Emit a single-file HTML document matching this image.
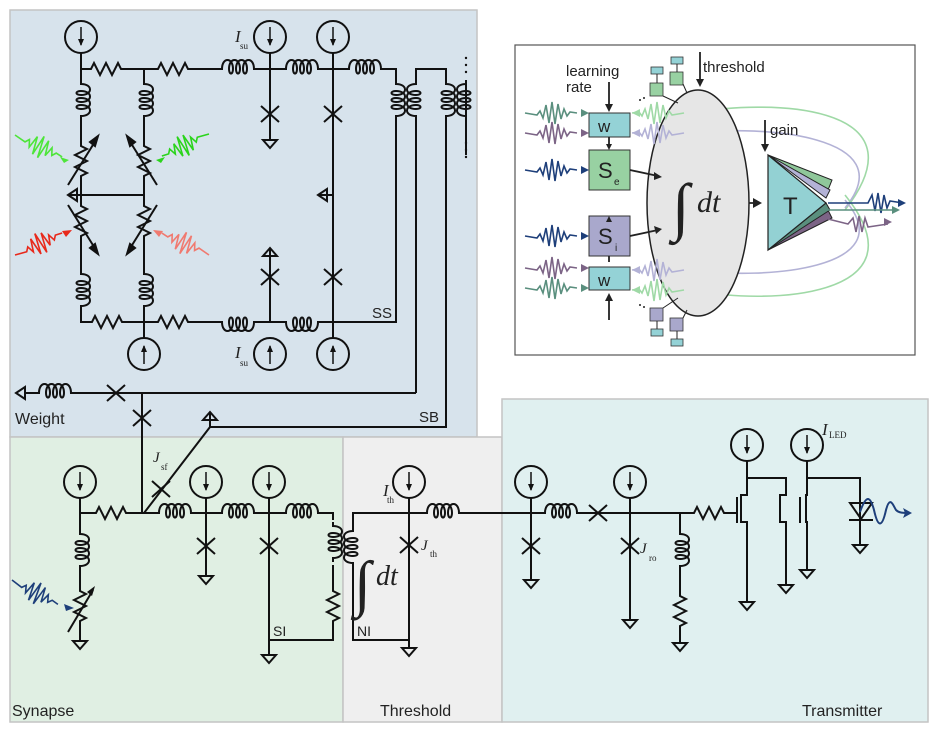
<!DOCTYPE html>
<html><head><meta charset="utf-8"><style>
html,body{margin:0;padding:0;background:#fff}
svg{display:block}
.s{font-family:"Liberation Sans",sans-serif;fill:#222}
.i{font-family:"Liberation Serif",serif;font-style:italic;fill:#222}
.sub{font-family:"Liberation Serif",serif;fill:#222;font-size:9px}
</style></head><body>
<svg width="936" height="729" viewBox="0 0 936 729" xmlns="http://www.w3.org/2000/svg">
<defs>
<g id="res"><path d="M0,0 h4 l3,-6 l6,12 l6,-12 l6,12 l6,-12 l3,6 h6" fill="none" stroke="#111" stroke-width="2"/></g>
<g id="ind"><path d="M0,0 h4 c0,-12 11,-12 11,0 c0,6 -4,6 -4,0 c0,-12 11,-12 11,0 c0,6 -4,6 -4,0 c0,-12 11,-12 11,0 c0,6 -4,6 -4,0 c0,-12 11,-12 11,0 h4" fill="none" stroke="#111" stroke-width="2"/></g>
<g id="srcd"><circle r="16" fill="none" stroke="#111" stroke-width="2"/><path d="M0,-10 V8" stroke="#111" stroke-width="1.5"/><path d="M-3,2 L0,9 L3,2Z" fill="#111"/></g>
<g id="srcu"><circle r="16" fill="none" stroke="#111" stroke-width="2"/><path d="M0,10 V-8" stroke="#111" stroke-width="1.5"/><path d="M-3,-2 L0,-9 L3,-2Z" fill="#111"/></g>
<g id="jj"><path d="M-9,-8 L9,8 M-9,8 L9,-8" stroke="#111" stroke-width="2"/></g>
<g id="gnd"><path d="M-7,0 H7 L0,8Z" fill="none" stroke="#111" stroke-width="2"/></g>
<g id="wave"><path d="M0,0 L12,2 L15,-2 L18,5 L21,-8 L24,10 L27,-11 L30,11 L33,-9 L36,6 L39,-4 L42,3 L45,-1 L52,0" fill="none" stroke-width="1.6"/></g>
</defs>

<rect x="10" y="10" width="467" height="427" fill="#d7e3ec" stroke="#c4c4c4" stroke-width="1.5"/>
<rect x="10" y="437" width="333" height="285" fill="#e0efe3" stroke="#c4c4c4" stroke-width="1.5"/>
<rect x="343" y="437" width="159" height="285" fill="#efefef" stroke="#c4c4c4" stroke-width="1.5"/>
<rect x="502" y="399" width="426" height="323" fill="#e0f0f0" stroke="#c4c4c4" stroke-width="1.5"/>
<rect x="515" y="45" width="400" height="310" fill="#fff" stroke="#555" stroke-width="1.2"/>

<g stroke="#111" stroke-width="2" fill="none">
<path d="M81,53 V80 M81,69 H87 M127,69 H154 M144,69 V80 M194,69 H218 M258,69 H282 M322,69 H345 M385,69 H396 V80 M270,53 V140 M333,53 V338 M396,120 V322 H333"/>
<path d="M416,80 V69 H446 V80 M416,120 V393 M446,120 V427 H210 V412 M466,82 V120 M466,155 V120"/>
<path d="M81,120 V145 M81,180 V205 M81,240 V270 M81,305 V322 H88 M128,322 H154 M194,322 H218 M258,322 H282 M322,322 H333 M144,120 V145 M144,180 V205 M144,240 V270 M144,305 V338 M270,322 V248 M68,195 H144 M318,195 H333"/>
<path d="M24,393 H35 M75,393 H416 M142,393 V512 M210,427 L144,513"/>
<path d="M80,498 V530 M80,513 H92 M132,513 H155 M195,513 H218 M258,513 H282 M322,513 H333 V520 M333,565 V590 M333,625 V640 H269 M206,498 V576 M269,498 V655 M80,570 V590 M80,625 V641"/>
<path d="M353,527 V513 H423 M463,513 H541 M353,567 V640 H409 M409,498 V648"/>
<path d="M531,498 V580 M581,513 H690 M630,498 V620 M680,513 V530 M680,565 V595 M680,630 V643 M730,513 H737 M737,497 V523 M747,461 V495 H741 V522 H747 V602 M747,478 H786 V495 H780 V522 H786 V585 M800,497 V523 M807,461 V495 H806 V522 H807 V570 M807,478 H860 V545"/>
<path d="M850,503 H872 L861,519Z M849,520 H873" />
</g>
<g fill="none" stroke="#111" stroke-width="2">
<path d="M68,195 L77,189 V201Z"/>
<path d="M318,195 L327,189 V201Z"/>
<path d="M270,248 L263,256 H277Z"/>
<path d="M210,412 L203,420 H217Z"/>
<path d="M16,393 L25,387 V399Z"/>
</g>
<g fill="#111"><circle cx="466" cy="58" r="1.2"/><circle cx="466" cy="65" r="1.2"/><circle cx="466" cy="72" r="1.2"/><circle cx="466" cy="143" r="1.2"/><circle cx="466" cy="150" r="1.2"/><circle cx="466" cy="157" r="1.2"/></g>

<use href="#srcd" x="81" y="37"/><use href="#srcd" x="270" y="37"/><use href="#srcd" x="333" y="37"/>
<use href="#srcu" x="144" y="354"/><use href="#srcu" x="270" y="354"/><use href="#srcu" x="333" y="354"/>
<use href="#res" x="87" y="69"/><use href="#res" x="154" y="69"/>
<use href="#res" x="88" y="322"/><use href="#res" x="154" y="322"/>
<use href="#ind" x="218" y="69"/><use href="#ind" x="282" y="69"/><use href="#ind" x="345" y="69"/>
<g transform="translate(218,322) scale(1,-1)"><use href="#ind"/></g>
<g transform="translate(282,322) scale(1,-1)"><use href="#ind"/></g>
<g transform="translate(396,80) rotate(90)"><use href="#ind"/></g>
<g transform="translate(416,80) rotate(90) scale(1,-1)"><use href="#ind"/></g>
<g transform="translate(446,80) rotate(90)"><use href="#ind"/></g>
<g transform="translate(466,80) rotate(90) scale(1,-1)"><use href="#ind"/></g>
<g transform="translate(81,80) rotate(90)"><use href="#ind"/></g>
<g transform="translate(144,80) rotate(90)"><use href="#ind"/></g>
<g transform="translate(81,270) rotate(90)"><use href="#ind"/></g>
<g transform="translate(144,270) rotate(90)"><use href="#ind"/></g>
<g transform="translate(81,142) rotate(90)"><use href="#res"/></g>
<g transform="translate(144,142) rotate(90)"><use href="#res"/></g>
<g transform="translate(81,202) rotate(90)"><use href="#res"/></g>
<g transform="translate(144,202) rotate(90)"><use href="#res"/></g>
<g stroke="#111" stroke-width="2" fill="#111">
<path d="M68,185 L96,140" fill="none"/><path d="M98,136 L90,142 L95,146Z"/>
<path d="M157,185 L129,140" fill="none"/><path d="M127,136 L135,142 L130,146Z"/>
<path d="M68,205 L96,250" fill="none"/><path d="M98,254 L90,248 L95,244Z"/>
<path d="M157,205 L129,250" fill="none"/><path d="M127,254 L135,248 L130,244Z"/>
</g>
<use href="#jj" x="270" y="114"/><use href="#gnd" x="270" y="140"/>
<use href="#jj" x="333" y="114"/><use href="#jj" x="333" y="277"/><use href="#jj" x="270" y="277"/>
<use href="#ind" x="35" y="393"/><use href="#jj" x="116" y="393"/><use href="#jj" x="142" y="418"/>
<g transform="translate(15,135) rotate(25)"><use href="#wave" stroke="#4ee53a"/></g>
<path d="M69,160 L60,157 L64,163Z" fill="#4ee53a"/>
<g transform="translate(209,134) rotate(155)"><use href="#wave" stroke="#2bd41c"/></g>
<path d="M156,160 L165,157 L161,163Z" fill="#2bd41c"/>
<g transform="translate(15,255) rotate(-25)"><use href="#wave" stroke="#e8291b"/></g>
<path d="M72,230 L62,231 L66,237Z" fill="#e8291b"/>
<g transform="translate(209,255) rotate(-155)"><use href="#wave" stroke="#f07a70"/></g>
<path d="M153,230 L163,231 L159,237Z" fill="#f07a70"/>

<use href="#srcd" x="80" y="482"/><use href="#srcd" x="206" y="482"/><use href="#srcd" x="269" y="482"/>
<use href="#res" x="92" y="513"/>
<use href="#ind" x="155" y="513"/><use href="#ind" x="218" y="513"/><use href="#ind" x="282" y="513"/>
<g transform="translate(80,530) rotate(90)"><use href="#ind"/></g>
<g transform="translate(80,587) rotate(90)"><use href="#res"/></g>
<g transform="translate(333,522) rotate(90)"><use href="#ind"/></g>
<g transform="translate(333,587) rotate(90)"><use href="#res"/></g>
<path d="M68,632 L93,590" stroke="#111" stroke-width="2"/><path d="M95,586 L87,592 L92,596Z" fill="#111"/>
<use href="#jj" x="161" y="489"/><use href="#jj" x="206" y="546"/><use href="#jj" x="269" y="546"/>
<use href="#gnd" x="80" y="641"/><use href="#gnd" x="206" y="576"/><use href="#gnd" x="269" y="655"/>
<g transform="translate(12,580) rotate(28)"><use href="#wave" stroke="#1e3f7a"/></g>
<path d="M74,608 L64,604 L66,611Z" fill="#1e3f7a"/>

<use href="#srcd" x="409" y="482"/>
<use href="#ind" x="423" y="513"/>
<g transform="translate(353,527) rotate(90) scale(1,-1)"><use href="#ind"/></g>
<use href="#jj" x="409" y="545"/><use href="#gnd" x="409" y="648"/>

<use href="#srcd" x="531" y="482"/><use href="#srcd" x="630" y="482"/>
<use href="#srcd" x="747" y="445"/><use href="#srcd" x="807" y="445"/>
<use href="#ind" x="541" y="513"/><use href="#jj" x="598" y="513"/>
<use href="#res" x="690" y="513"/>
<g transform="translate(680,530) rotate(90)"><use href="#ind"/></g>
<g transform="translate(680,592) rotate(90)"><use href="#res"/></g>
<use href="#jj" x="531" y="546"/><use href="#jj" x="630" y="546"/>
<use href="#gnd" x="531" y="580"/><use href="#gnd" x="630" y="620"/><use href="#gnd" x="680" y="643"/>
<use href="#gnd" x="747" y="602"/><use href="#gnd" x="786" y="585"/><use href="#gnd" x="807" y="570"/><use href="#gnd" x="860" y="545"/>
<path d="M860,512 C866,495 870,495 874,510 C878,528 882,528 886,510 C890,495 893,505 896,510 C899,513 904,513 908,513" fill="none" stroke="#1e3f7a" stroke-width="2"/>
<path d="M912,513 L903,508 L905,513 L903,518Z" fill="#1e3f7a"/>

<text class="s" x="15" y="424" font-size="16">Weight</text>
<text class="s" x="419" y="422" font-size="15">SB</text>
<text class="s" x="372" y="318" font-size="15">SS</text>
<text class="s" x="12" y="716" font-size="16">Synapse</text>
<text class="s" x="380" y="716" font-size="16">Threshold</text>
<text class="s" x="802" y="716" font-size="16">Transmitter</text>
<text class="s" x="273" y="636" font-size="14">SI</text>
<text class="s" x="357" y="636" font-size="14">NI</text>
<text class="i" x="235" y="42" font-size="17">I</text><text class="sub" x="240" y="49">su</text>
<text class="i" x="235" y="358" font-size="17">I</text><text class="sub" x="240" y="366">su</text>
<text class="i" x="153" y="462" font-size="15">J</text><text class="sub" x="161" y="470">sf</text>
<text class="i" x="383" y="496" font-size="17">I</text><text class="sub" x="387" y="503">th</text>
<text class="i" x="421" y="550" font-size="15">J</text><text class="sub" x="430" y="557">th</text>
<text class="i" x="640" y="553" font-size="15">J</text><text class="sub" x="649" y="561">ro</text>
<text class="i" x="822" y="435" font-size="17">I</text><text class="sub" x="829" y="438">LED</text>
<text class="i" x="354" y="604" font-size="62">∫</text><text class="i" x="376" y="585" font-size="28">dt</text>

<g fill="none" stroke-width="1.6">
<path d="M695,113 C760,100 930,100 845,210" stroke="#9fd9a6"/>
<path d="M695,133 C760,125 905,135 845,208" stroke="#b3b2d6"/>
<path d="M695,270 C760,280 905,270 845,200" stroke="#b3b2d6"/>
<path d="M695,290 C760,305 930,300 845,195" stroke="#9fd9a6"/>
</g>
<ellipse cx="698" cy="203" rx="51" ry="113" fill="#e6e6e6" stroke="#222" stroke-width="1.5"/>
<g transform="translate(684,113) scale(-1,1)"><use href="#wave" stroke="#9fd9a6"/></g>
<g transform="translate(684,133) scale(-1,1)"><use href="#wave" stroke="#b3b2d6"/></g>
<g transform="translate(684,270) scale(-1,1)"><use href="#wave" stroke="#b3b2d6"/></g>
<g transform="translate(684,290) scale(-1,1)"><use href="#wave" stroke="#9fd9a6"/></g>
<path d="M632,113 l8,-4 v8Z M632,290 l8,-4 v8Z" fill="#9fd9a6"/>
<path d="M632,133 l8,-4 v8Z M632,270 l8,-4 v8Z" fill="#b3b2d6"/>
<g transform="translate(525,113)"><use href="#wave" stroke="#5a8f7e"/></g>
<g transform="translate(525,133)"><use href="#wave" stroke="#7c6486"/></g>
<g transform="translate(525,170)"><use href="#wave" stroke="#1e3f7a"/></g>
<g transform="translate(525,236)"><use href="#wave" stroke="#1e3f7a"/></g>
<g transform="translate(525,268)"><use href="#wave" stroke="#7c6486"/></g>
<g transform="translate(525,288)"><use href="#wave" stroke="#5a8f7e"/></g>
<path d="M589,113 l-8,-4 v8Z" fill="#5a8f7e"/><path d="M589,133 l-8,-4 v8Z" fill="#7c6486"/>
<path d="M589,170 l-8,-4 v8Z M589,236 l-8,-4 v8Z" fill="#1e3f7a"/>
<path d="M589,268 l-8,-4 v8Z" fill="#7c6486"/><path d="M589,288 l-8,-4 v8Z" fill="#5a8f7e"/>
<polygon points="768,155 832,180 828,190" fill="#8fc79a" stroke="#222"/>
<polygon points="768,155 830,190 826,198" fill="#b3b2d6" stroke="#222"/>
<polygon points="768,250 832,218 828,210" fill="#7c6486" stroke="#222"/>
<polygon points="768,250 830,210 826,203" fill="#5a8f7e" stroke="#222"/>
<polygon points="768,155 768,250 826,203" fill="#93d1d3" stroke="#222" stroke-width="1.2"/>
<text class="s" x="783" y="214" font-size="24">T</text>
<g transform="translate(828,203)"><path d="M0,0 L40,0 L44,-8 L47,8 L50,-10 L53,10 L56,-8 L59,5 L62,-2 L75,0" fill="none" stroke="#1e3f7a" stroke-width="1.6"/></g>
<g transform="translate(828,210)"><path d="M0,0 H70" fill="none" stroke="#5a8f7e" stroke-width="1.6"/></g>
<g transform="translate(828,224)"><path d="M0,-5 L20,0 L25,-6 L28,8 L31,-8 L34,8 L37,-6 L40,3 L60,0" fill="none" stroke="#7c6486" stroke-width="1.6"/></g>
<path d="M906,203 l-8,-4 v8Z" fill="#1e3f7a"/><path d="M900,210 l-8,-4 v8Z" fill="#5a8f7e"/><path d="M892,222 l-8,-4 v8Z" fill="#7c6486"/>
<rect x="589" y="113" width="41" height="24" fill="#94d2d6" stroke="#333"/>
<rect x="589" y="150" width="41" height="40" fill="#98d1a2" stroke="#333"/>
<rect x="589" y="216" width="41" height="40" fill="#a9a8cc" stroke="#333"/>
<rect x="589" y="267" width="41" height="23" fill="#94d2d6" stroke="#333"/>
<text class="s" x="598" y="132" font-size="17">w</text>
<text class="s" x="598" y="286" font-size="17">w</text>
<text class="s" x="598" y="178" font-size="22">S</text><text class="s" x="614" y="185" font-size="10">e</text>
<text class="s" x="598" y="244" font-size="22">S</text><text class="s" x="615" y="251" font-size="10">i</text>
<text class="i" x="672" y="228" font-size="64">∫</text><text class="i" x="697" y="212" font-size="30">dt</text>
<g stroke="#222" stroke-width="1.8" fill="none">
<path d="M609,82 V108 M609,137 V146 M609,256 V262 M609,320 V296 M630,170 L658,176 M630,236 L658,230 M749,203 H758 M700,52 V82 M765,120 V146"/>
</g>
<path d="M609,112 l-4,-8 h8Z M609,150 l-3,-6 h6Z M609,216 l-3,6 h6Z M609,293 l-4,8 h8Z M662,177 l-8,-5 l0,8Z M662,229 l-8,-3 l2,8Z M762,203 l-9,-5 v10Z M700,87 l-4,-8 h8Z M765,152 l-4,-8 h8Z" fill="#222"/>
<text class="s" x="566" y="76" font-size="15">learning</text>
<text class="s" x="566" y="92" font-size="15">rate</text>
<text class="s" x="703" y="72" font-size="15">threshold</text>
<text class="s" x="770" y="135" font-size="15">gain</text>
<g stroke="#333" stroke-width="0.8">
<rect x="651" y="67" width="12" height="7" fill="#94d2d6"/><rect x="650" y="83" width="13" height="13" fill="#98d1a2"/>
<rect x="671" y="57" width="12" height="7" fill="#94d2d6"/><rect x="670" y="72" width="13" height="13" fill="#98d1a2"/>
<rect x="650" y="308" width="13" height="13" fill="#a9a8cc"/><rect x="651" y="329" width="12" height="7" fill="#94d2d6"/>
<rect x="670" y="318" width="13" height="13" fill="#a9a8cc"/><rect x="671" y="339" width="12" height="7" fill="#94d2d6"/>
</g>
<g stroke="#222" stroke-width="1" fill="none"><path d="M657,74 V83 M677,64 V72 M663,96 L678,103 M683,84 L687,93 M657,321 V329 M677,331 V339 M663,308 L678,298 M683,318 L687,310"/></g>
<g fill="#222"><circle cx="640" cy="100" r="1"/><circle cx="644" cy="98" r="1"/><circle cx="640" cy="305" r="1"/><circle cx="644" cy="307" r="1"/></g>
</svg>
</body></html>
